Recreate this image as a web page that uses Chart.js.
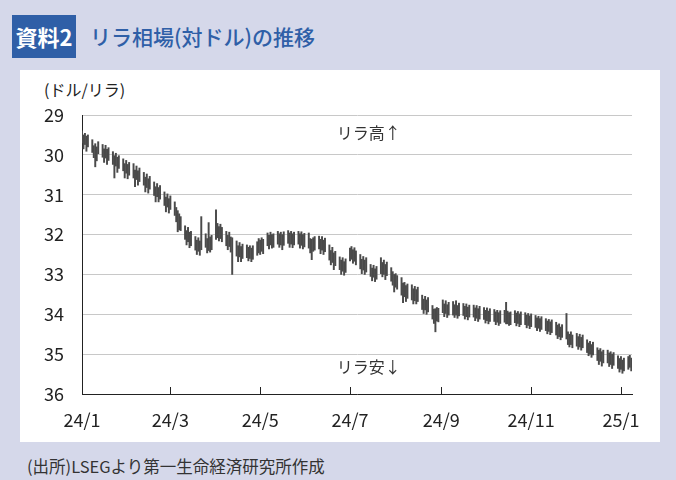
<!DOCTYPE html>
<html>
<head>
<meta charset="utf-8">
<script src="https://cdn.jsdelivr.net/npm/chart.js@4.4.1/dist/chart.umd.min.js"></script>
<style>
html, body { margin: 0; padding: 0; }
body { width: 676px; height: 480px; background: #d5d8ea; position: relative; overflow: hidden;
       font-family: "Noto Sans CJK JP", "Noto Sans", sans-serif; }
#panel { position: absolute; left: 20px; top: 70px; width: 640px; height: 372px; background: #fff; }
#badge { position: absolute; left: 12px; top: 15px; width: 64px; height: 43px; background: #2f5fa7;
         color: #fff; font-size: 22px; font-weight: bold; line-height: 43px; text-align: center; }
#title { position: absolute; left: 90px; top: 15px; line-height: 43px; font-size: 21px; color: #2f5fa7; font-weight: 500; }
#unit { position: absolute; left: 44px; top: 78px; font-size: 16px; color: #222; line-height: 22px; }
#note { position: absolute; left: 27px; top: 455px; font-size: 16.5px; color: #333; line-height: 22px; }
canvas { position: absolute; left: 0; top: 0; }
</style>
</head>
<body>
<div id="panel"></div>
<div id="badge">資料2</div>
<div id="title">リラ相場(対ドル)の推移</div>
<div id="unit">(ドル/リラ)</div>
<div id="note">(出所)LSEGより第一生命経済研究所作成</div>
<canvas id="grafico" width="676" height="480"></canvas>
<script>
// 日次の安値・高値 (ドル/リラ)、2024/1/1(月)から営業日ごと、1行=1週
var lows = [
    29.40, 29.50, 29.46, 29.53, 29.50,
    29.62, 29.77, 29.72, 29.80, 29.67,
    29.74, 29.85, 29.76, 29.86, 29.82,
    29.92, 30.02, 29.96, 30.06, 30.02,
    30.10, 30.22, 30.14, 30.24, 30.19,
    30.22, 30.38, 30.28, 30.40, 30.33,
    30.44, 30.56, 30.48, 30.60, 30.54,
    30.68, 30.80, 30.72, 30.82, 30.77,
    30.93, 31.06, 30.98, 31.10, 31.03,
    31.18, 31.32, 31.40, 31.48, 31.55,
    31.78, 31.90, 31.82, 31.94, 31.92,
    32.05, 32.14, 32.08, 32.16, 31.55,
    31.98, 32.10, 31.70, 32.06, 32.02,
    31.38, 31.72, 31.80, 31.74, 31.82,
    31.92, 32.02, 31.94, 32.06, 32.08,
    32.16, 32.28, 32.20, 32.30, 32.24,
    32.26, 32.32, 32.28, 32.34, 32.28,
    32.18, 32.10, 32.14, 32.08, 32.12,
    31.96, 32.02, 31.94, 32.00, 31.98,
    31.92, 31.98, 31.94, 32.00, 31.93,
    31.90, 31.96, 31.92, 31.98, 31.94,
    31.92, 31.98, 31.93, 32.00, 31.97,
    31.96, 32.10, 32.12, 32.08, 32.05,
    32.04, 32.12, 32.05, 32.14, 32.09,
    32.26, 32.40, 32.32, 32.46, 32.42,
    32.56, 32.64, 32.58, 32.68, 32.61,
    32.34, 32.30, 32.38, 32.33, 32.41,
    32.50, 32.62, 32.55, 32.64, 32.58,
    32.75, 32.84, 32.77, 32.86, 32.80,
    32.58, 32.70, 32.64, 32.75, 32.69,
    32.83, 32.93, 33.00, 32.98, 33.03,
    33.08, 33.22, 33.20, 33.28, 33.24,
    33.26, 33.36, 33.30, 33.38, 33.32,
    33.52, 33.62, 33.55, 33.64, 33.58,
    33.78, 33.87, 33.86, 33.83, 33.85,
    33.64, 33.74, 33.66, 33.76, 33.70,
    33.68, 33.76, 33.66, 33.78, 33.72,
    33.73, 33.80, 33.74, 33.82, 33.77,
    33.77, 33.84, 33.78, 33.86, 33.80,
    33.83, 33.90, 33.84, 33.92, 33.86,
    33.88, 33.94, 33.90, 33.96, 33.91,
    33.90, 33.70, 33.92, 33.96, 33.94,
    33.91, 33.97, 33.93, 33.99, 33.94,
    33.96, 34.02, 33.98, 34.04, 33.99,
    34.03, 34.09, 34.05, 34.11, 34.06,
    34.11, 34.17, 34.13, 34.19, 34.14,
    34.20, 34.27, 34.24, 34.32, 34.26,
    33.98, 34.44, 34.50, 34.44, 34.52,
    34.48, 34.56, 34.50, 34.58, 34.52,
    34.64, 34.72, 34.68, 34.76, 34.70,
    34.84, 34.90, 34.86, 34.94, 34.90,
    34.90, 34.97, 34.94, 35.00, 34.96,
    35.04, 35.11, 35.06, 35.15, 35.10,
    35.06, 35.03, 35.10
];
var highs = [
    29.70, 29.85, 29.74, 29.91, 29.80,
    29.94, 30.07, 30.30, 30.15, 29.97,
    30.06, 30.19, 30.08, 30.24, 30.14,
    30.24, 30.58, 30.28, 30.44, 30.34,
    30.40, 30.58, 30.46, 30.60, 30.51,
    30.58, 30.80, 30.62, 30.76, 30.67,
    30.76, 30.93, 30.82, 30.96, 30.86,
    31.02, 31.18, 31.05, 31.18, 31.11,
    31.27, 31.43, 31.31, 31.46, 31.37,
    31.52, 31.68, 31.93, 31.88, 31.90,
    32.12, 32.26, 32.18, 32.33, 32.28,
    32.39, 32.50, 32.42, 32.52, 32.38,
    32.32, 32.46, 32.40, 32.44, 32.38,
    32.12, 32.08, 32.16, 32.10, 32.18,
    32.28, 32.38, 32.30, 32.44, 33.00,
    32.54, 32.68, 32.56, 32.68, 32.60,
    32.58, 32.66, 32.60, 32.68, 32.62,
    32.52, 32.46, 32.50, 32.42, 32.48,
    32.28, 32.36, 32.26, 32.34, 32.32,
    32.24, 32.32, 32.26, 32.38, 32.27,
    32.22, 32.32, 32.24, 32.33, 32.26,
    32.24, 32.34, 32.27, 32.36, 32.31,
    32.34, 32.46, 32.63, 32.42, 32.39,
    32.36, 32.48, 32.39, 32.50, 32.43,
    32.64, 32.76, 32.70, 32.88, 32.78,
    32.88, 33.00, 32.92, 33.02, 32.95,
    32.66, 32.62, 32.72, 32.67, 32.76,
    32.86, 32.98, 32.89, 33.00, 32.94,
    33.05, 33.16, 33.07, 33.18, 33.12,
    32.98, 33.06, 33.00, 33.13, 33.03,
    33.17, 33.27, 33.44, 33.32, 33.37,
    33.52, 33.71, 33.56, 33.68, 33.60,
    33.64, 33.74, 33.66, 33.74, 33.68,
    33.88, 33.98, 33.89, 34.00, 33.94,
    34.12, 34.23, 34.44, 34.17, 34.19,
    33.96, 34.06, 33.98, 34.08, 34.02,
    34.02, 34.08, 34.02, 34.10, 34.04,
    34.03, 34.12, 34.06, 34.14, 34.07,
    34.07, 34.16, 34.10, 34.18, 34.12,
    34.13, 34.22, 34.16, 34.24, 34.18,
    34.18, 34.26, 34.20, 34.28, 34.23,
    34.20, 34.24, 34.24, 34.28, 34.26,
    34.21, 34.29, 34.23, 34.31, 34.26,
    34.26, 34.34, 34.28, 34.36, 34.31,
    34.33, 34.41, 34.35, 34.43, 34.38,
    34.41, 34.49, 34.43, 34.51, 34.46,
    34.52, 34.61, 34.56, 34.64, 34.58,
    34.62, 34.76, 34.82, 34.76, 34.84,
    34.80, 34.88, 34.82, 34.90, 34.84,
    34.96, 35.04, 35.00, 35.08, 35.02,
    35.16, 35.26, 35.18, 35.30, 35.22,
    35.22, 35.31, 35.26, 35.36, 35.28,
    35.36, 35.45, 35.38, 35.48, 35.42,
    35.38, 35.33, 35.42
];

// 目盛り: 2024/1/1からの日数とラベル
var monthDays = [0, 60, 121, 182, 244, 305, 366];
var monthLabels = ["24/1", "24/3", "24/5", "24/7", "24/9", "24/11", "25/1"];

// 営業日 (月〜金) の日数位置
var days = [];
for (var d = 0; days.length < lows.length; d++) {
    if (d % 7 < 5) days.push(d);
}

var points = days.map(function (x, i) {
    return { x: x, y: [lows[i], highs[i]] };
});

var FONT = "'Noto Sans CJK JP', 'Noto Sans', sans-serif";

var extras = {
    id: "extras",
    afterDraw: function (chart) {
        var c = chart.ctx, xs = chart.scales.x, ys = chart.scales.y;
        var bottom = chart.chartArea.bottom;
        c.save();
        // 内向きの目盛り線
        c.strokeStyle = "#222";
        c.lineWidth = 1;
        monthDays.forEach(function (v) {
            var px = Math.round(xs.getPixelForValue(v)) + 0.5;
            c.beginPath();
            c.moveTo(px, bottom);
            c.lineTo(px, bottom - 7);
            c.stroke();
        });
        // 注記
        c.fillStyle = "#333";
        c.font = "16px " + FONT;
        c.textAlign = "left";
        c.textBaseline = "middle";
        c.fillText("リラ高↑", xs.getPixelForValue(173), ys.getPixelForValue(29.45));
        c.fillText("リラ安↓", xs.getPixelForValue(173), ys.getPixelForValue(35.33));
        c.restore();
    }
};

var ctx = document.getElementById("grafico").getContext("2d");
var grafico = new Chart(ctx, {
    type: "bar",
    data: {
        datasets: [{
            data: points,
            backgroundColor: "#4a4a4a",
            borderWidth: 0,
            barThickness: 1.3
        }]
    },
    options: {
        responsive: false,
        animation: false,
        devicePixelRatio: 1,
        layout: { padding: { left: 0, right: 44, top: 115, bottom: 0 } },
        plugins: { legend: { display: false }, tooltip: { enabled: false } },
        scales: {
            x: {
                type: "linear",
                offset: false,
                min: 0,
                max: 373.5,
                afterFit: function (s) { s.height = 86; },
                afterBuildTicks: function (s) {
                    s.ticks = monthDays.map(function (v) { return { value: v }; });
                },
                grid: { display: true, drawOnChartArea: false, drawTicks: false, offset: false },
                border: { display: true, color: "#222", width: 1 },
                ticks: {
                    padding: 15,
                    color: "#222",
                    font: { size: 18, family: FONT },
                    maxRotation: 0,
                    autoSkip: false,
                    callback: function (v, i) { return monthLabels[i]; }
                }
            },
            y: {
                reverse: true,
                min: 29,
                max: 36,
                afterFit: function (s) { s.width = 82; },
                grid: { color: "#c8c8c8", drawTicks: false },
                border: { display: true, color: "#222", width: 1 },
                ticks: {
                    stepSize: 1,
                    padding: 18,
                    color: "#222",
                    font: { size: 18, family: FONT }
                }
            }
        }
    },
    plugins: [extras]
});
</script>
</body>
</html>
